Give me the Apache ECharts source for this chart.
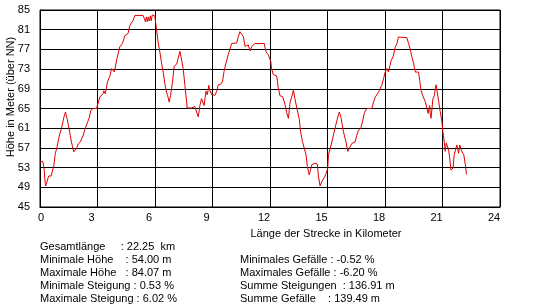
<!DOCTYPE html>
<html>
<head>
<meta charset="utf-8">
<script src="https://cdn.jsdelivr.net/npm/echarts@6/dist/echarts.min.js"></script>
<style>
html,body{margin:0;padding:0;background:#fff;}
#c{width:549px;height:308px;}
</style>
</head>
<body>
<div id="c"></div>
<script>
// Distance along the route (km)
const distanceKm = [0,0.15,0.22,0.27,0.3,0.4,0.45,0.52,0.58,0.66,0.72,0.8,0.88,0.94,1.03,1.12,1.2,1.25,1.33,1.37,1.41,1.47,1.52,1.58,1.64,1.7,1.76,1.85,1.92,1.99,2.1,2.16,2.26,2.33,2.42,2.5,2.56,2.65,2.77,2.95,3.03,3.12,3.2,3.28,3.33,3.4,3.46,3.52,3.64,3.73,3.8,3.88,3.97,4.02,4.16,4.3,4.34,4.43,4.59,4.69,4.78,4.86,4.95,5.38,5.45,5.5,5.55,5.6,5.65,5.7,5.76,5.8,5.86,5.92,5.99,6.08,6.17,6.26,6.34,6.43,6.52,6.6,6.66,6.74,6.81,6.92,7.0,7.13,7.22,7.3,7.39,7.47,7.56,7.65,7.68,7.91,8.0,8.08,8.17,8.26,8.34,8.43,8.51,8.56,8.66,8.73,8.81,8.86,8.96,9.05,9.13,9.22,9.3,9.42,9.52,9.6,9.7,9.82,10.0,10.26,10.35,10.43,10.52,10.61,10.7,10.78,10.87,10.96,11.05,11.22,11.7,11.79,11.91,12.04,12.08,12.17,12.35,12.43,12.52,12.66,12.78,12.87,12.96,13.05,13.13,13.22,13.3,13.4,13.52,13.6,13.69,13.79,13.88,13.95,14.05,14.12,14.18,14.35,14.47,14.52,14.61,14.7,14.75,14.87,14.96,15.01,15.05,15.19,15.31,15.43,15.54,15.62,15.71,15.83,15.96,16.06,16.14,16.27,16.44,16.53,16.62,16.74,16.84,16.93,17.05,17.31,17.4,17.49,17.58,17.66,17.75,17.84,17.92,18.01,18.1,18.18,18.27,18.32,18.44,18.53,18.62,18.7,19.14,19.23,19.32,19.4,19.49,19.58,19.75,19.81,19.88,19.96,20.02,20.1,20.19,20.25,20.33,20.36,20.4,20.45,20.5,20.58,20.62,20.67,20.71,20.79,20.88,20.97,21.02,21.09,21.14,21.2,21.27,21.32,21.37,21.44,21.5,21.55,21.61,21.7,21.75,21.8,21.84,21.9,21.96,22.0,22.11,22.19,22.25];
// Elevation (m above NN)
const elevationM = [54.2,54.2,52.5,49.8,49.3,49.3,51.3,51.6,51.3,51.7,53.4,55.9,57.0,58.2,59.8,60.9,62.4,63.3,64.3,63.6,63.0,61.8,60.9,59.5,58.2,57.2,56.2,56.0,57.0,57.8,58.2,58.6,59.6,60.6,61.0,62.4,63.0,64.6,65.0,65.0,65.2,67.3,67.6,68.0,68.6,68.0,69.0,70.4,71.5,73.1,73.3,72.4,72.4,75.2,77.5,78.2,78.2,79.8,80.2,81.9,82.3,82.9,83.9,83.9,83.2,82.6,83.6,82.6,83.6,82.8,83.8,82.8,84.0,84.07,83.8,81.0,78.3,76.3,74.3,72.3,69.9,68.3,67.6,66.3,67.6,70.6,73.6,74.0,74.3,76.6,74.8,73.1,69.7,66.3,65.1,65.1,64.8,65.4,64.3,63.3,65.6,67.0,67.0,65.6,68.5,67.8,69.7,68.7,67.8,68.0,67.7,68.5,69.8,69.9,70.4,72.5,74.2,75.9,78.2,78.3,79.6,80.6,80.6,79.6,77.6,77.2,77.9,76.7,77.6,78.2,78.2,76.5,75.9,74.6,73.2,71.9,71.6,69.2,67.6,67.4,65.9,64.2,63.0,66.3,67.3,68.7,67.0,65.1,63.0,60.3,58.3,56.9,55.6,53.2,51.5,51.5,53.6,53.9,53.7,51.5,49.3,49.3,50.5,51.2,51.5,52.8,55.6,57.6,59.6,61.6,63.3,64.3,63.0,60.3,58.3,56.3,56.1,57.9,58.2,59.6,60.6,61.0,62.6,64.2,65.0,65.0,66.3,67.3,67.6,68.3,68.7,69.8,71.0,72.4,73.1,72.4,72.4,74.7,75.7,77.4,78.2,79.5,79.4,78.2,77.0,75.5,74.2,72.4,72.4,70.7,68.7,67.7,67.4,66.4,65.0,64.0,65.6,64.0,63.0,65.0,67.0,67.6,69.0,69.8,68.7,66.7,64.4,62.3,60.3,58.3,56.3,58.0,57.6,56.5,55.2,52.5,52.2,52.9,55.6,55.9,57.6,56.6,55.9,57.6,57.3,56.3,55.6,53.6,51.6];

const xTickInterval = 3, xMin = 0, xMax = 24;
const yTickInterval = 4, yMin = 45, yMax = 85;
const yAxisTitle = 'Höhe in Meter (über NN)';
const xAxisTitle = 'Länge der Strecke in Kilometer';
const statsLeft = [
  'Gesamtlänge     : 22.25  km',
  'Minimale Höhe    : 54.00 m',
  'Maximale Höhe   : 84.07 m',
  'Minimale Steigung : 0.53 %',
  'Maximale Steigung : 6.02 %'
];
const statsRight = [
  'Minimales Gefälle : -0.52 %',
  'Maximales Gefälle : -6.20 %',
  'Summe Steigungen  : 136.91 m',
  'Summe Gefälle    : 139.49 m'
];

const FONT = '"Liberation Sans", Arial, sans-serif';
const seriesData = distanceKm.map((d, i) => [d, elevationM[i]]);

const graphics = [];
graphics.push({
  type: 'text', x: 11, y: 97, rotation: Math.PI / 2,
  style: { text: yAxisTitle, fontSize: 11, fontFamily: FONT, fill: '#000', align: 'center', verticalAlign: 'middle' }
});
graphics.push({
  type: 'text', x: 326, y: 234,
  style: { text: xAxisTitle, fontSize: 11, fontFamily: FONT, fill: '#000', align: 'center', verticalAlign: 'middle' }
});
const leftRows = [247, 260, 273, 286, 299];
statsLeft.forEach((t, i) => graphics.push({
  type: 'text', x: 40, y: leftRows[i],
  style: { text: t, fontSize: 11, fontFamily: FONT, fill: '#000', align: 'left', verticalAlign: 'middle' }
}));
const rightRows = [260, 273, 286, 299];
statsRight.forEach((t, i) => graphics.push({
  type: 'text', x: 240, y: rightRows[i],
  style: { text: t, fontSize: 11, fontFamily: FONT, fill: '#000', align: 'left', verticalAlign: 'middle' }
}));

const chart = echarts.init(document.getElementById('c'), null, { renderer: 'canvas' });
chart.setOption({
  animation: false,
  backgroundColor: '#fff',
  grid: { left: 40, top: 10, width: 460, height: 197, show: true, borderColor: '#000', borderWidth: 1, containLabel: false },
  xAxis: {
    type: 'value', min: xMin, max: xMax, interval: xTickInterval,
    axisLine: { show: true, lineStyle: { color: '#000', width: 1 } },
    axisTick: { show: false },
    splitLine: { show: true, lineStyle: { color: '#000', width: 1 } },
    axisLabel: {
      margin: 5, color: '#000', fontSize: 11, fontFamily: FONT,
      formatter: v => v === 0 ? '{z|0}' : '{n|' + v + '}',
      rich: {
        z: { fontSize: 11, fontFamily: FONT, color: '#000', padding: [0, 0, 0, 2] },
        n: { fontSize: 11, fontFamily: FONT, color: '#000', padding: [0, 12, 0, 0] }
      }
    }
  },
  yAxis: {
    type: 'value', min: yMin, max: yMax, interval: yTickInterval,
    axisLine: { show: true, lineStyle: { color: '#000', width: 1 } },
    axisTick: { show: false },
    splitLine: { show: true, lineStyle: { color: '#000', width: 1 } },
    axisLabel: { margin: 10, color: '#000', fontSize: 11, fontFamily: FONT }
  },
  series: [{
    type: 'line', data: seriesData, showSymbol: false, symbol: 'none',
    lineStyle: { color: '#e00000', width: 1 }, z: 5
  }],
  graphic: graphics
});
</script>
</body>
</html>
